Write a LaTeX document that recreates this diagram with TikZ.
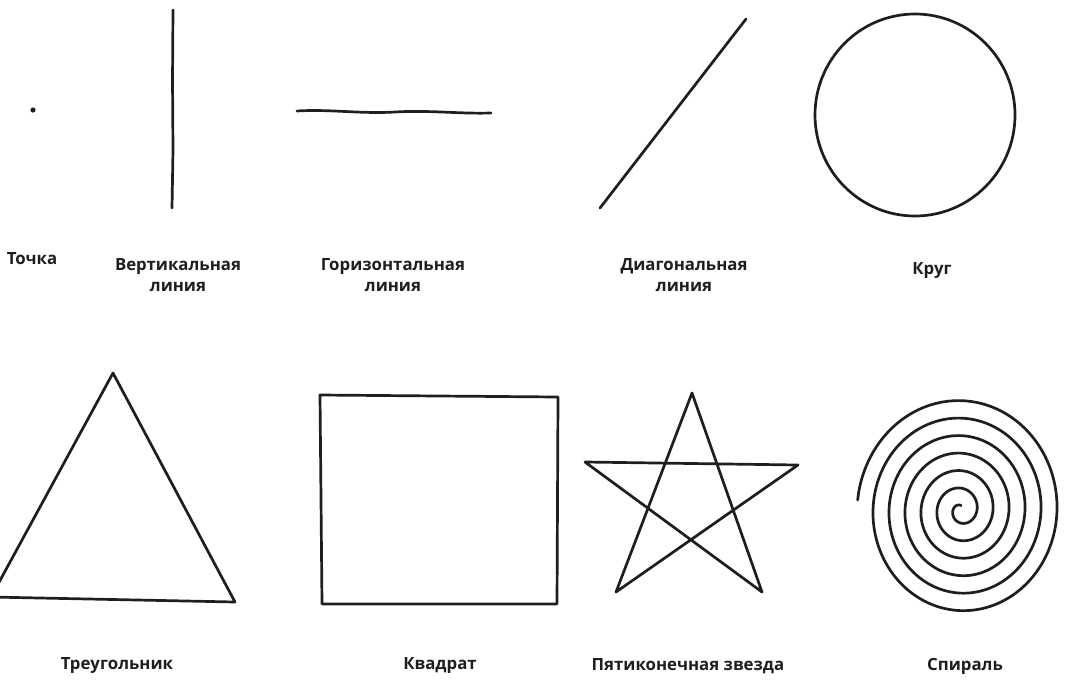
\documentclass[tikz,border=0pt]{standalone}
\usepackage{fontspec}
\setmainfont{Open Sans}
\usetikzlibrary{calc}
\definecolor{ink}{HTML}{1E1E1E}
\tikzset{
  stroke/.style={draw=ink, line width=2.7pt, line cap=round, line join=round},
  lbl/.style={font=\bfseries\fontsize{16.8}{21}\selectfont, text=ink, align=center, inner sep=0pt}
}
\begin{document}
\begin{tikzpicture}[x=1pt,y=-1pt]
\useasboundingbox (0,0) rectangle (1065,681);
% row 1
\fill[ink] (33,110) circle (2.6pt);
\draw[stroke] (173,10) -- (172.5,80) -- (173,150) -- (172,208);
\draw[stroke] (297,111) .. controls (330,109) and (360,114) .. (395,112) .. controls (430,110) and (460,114) .. (491,113);
\draw[stroke] (600,208) -- (746,19);
\draw[stroke] (915,115) ellipse [x radius=100, y radius=101];
% row 2
\begin{scope}
\clip (0,0) rectangle (1065,681);
\draw[stroke] (113,373) -- (235,602) -- (-9,597) -- cycle;
\end{scope}
\draw[stroke] (320,395) -- (558,397) -- (557,604) -- (322,604) -- cycle;
\draw[stroke] (692,393) -- (616,592) -- (798,465) -- (585,462) -- (762,592) -- cycle;
\draw[stroke, domain=0.25:6.486, samples=500, smooth, variable=\t]
  plot ({961+16*\t*cos(\t*360)}, {510-17.5*\t*sin(\t*360)});
% labels
\node[lbl] (l1) at (32,259) {Точка};
\node[lbl] (l2) at (178,275) {Вертикальная\\линия};
\node[lbl] (l3) at (393,275) {Горизонтальная\\линия};
\node[lbl] (l4) at (684,275) {Диагональная\\линия};
\node[lbl] (l5) at (932,271) {Круг};
\node[lbl] (l6) at (117,666) {Треугольник};
\node[lbl] (l7) at (440,666) {Квадрат};
\node[lbl] (l8) at (688,666) {Пятиконечная звезда};
\node[lbl] (l9) at (965,666) {Спираль};
\end{tikzpicture}
\end{document}
